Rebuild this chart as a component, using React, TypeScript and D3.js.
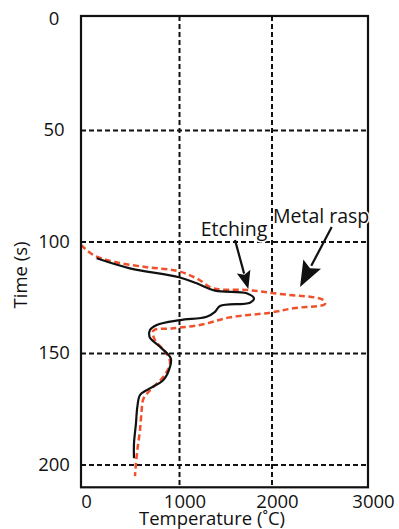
import React from "react";
import * as d3 from "d3";

const xTicks = [0, 1000, 2000, 3000];
const xTickLabels = ["0", "1000", "2000", "3000"];
const yTicks = [0, 50, 100, 150, 200];
const yTickLabels = ["0", "50", "100", "150", "200"];
const xGrid = [1000, 2000];
const yGrid = [50, 100, 150, 200];

// Etching (black solid): temperature (°C), time (s)
const etchingTemp = [159, 497, 995, 1186, 1384, 1726, 1805, 1762, 1438, 1384, 1294, 1005, 769, 700, 695, 802, 911, 904, 836, 667, 599, 572, 558, 538, 538];
const etchingTime = [107.3, 111.8, 115.8, 118.5, 121.8, 123, 125.3, 127.2, 128.7, 131.3, 133.5, 135, 137.2, 139.5, 142.5, 147, 152.1, 155.9, 161.9, 166.4, 168.6, 173.9, 181.3, 190.3, 197];

// Metal rasp (red dashed)
const raspTemp = [0, 125, 328, 667, 972, 1186, 1366, 1726, 2083, 2534, 2552, 2222, 1978, 1546, 1222, 937, 734, 751, 870, 904, 836, 701, 632, 616, 599, 572, 555, 548];
const raspTime = [101.3, 105.8, 108.8, 111.3, 112.9, 116.3, 120.8, 121.5, 123.3, 126, 127.8, 129.7, 131.7, 133.8, 137.2, 138.7, 139.8, 144, 150, 154.4, 160.4, 166.4, 170.5, 175.3, 184.3, 193.3, 200.8, 205];

const annotations = [
  { label: "Etching", textT: 1230, textY: 97.5, fromT: 1600, fromY: 99.1, toT: 1744, toY: 121.1, headLen: 18, headW: 14 },
  { label: "Metal rasp", textT: 2010, textY: 91.5, fromT: 2622, fromY: 93.3, toT: 2292, toY: 120.2, headLen: 26, headW: 20 },
];

const W = 399;
const H = 529;
const FONT = "'Open Sans', 'Liberation Sans', sans-serif";

export default function App() {
  const x = d3.scaleLinear().domain([0, 1000, 2000, 3000]).range([81, 179.5, 272, 368]);
  const y = d3.scaleLinear().domain([0, 200]).range([19, 465]);
  const frameTop = y(-1.35);
  const frameBottom = y(210);
  const frameLeft = x(0);
  const frameRight = x(3000);

  const line = d3
    .line<[number, number]>()
    .x((d) => x(d[0]))
    .y((d) => y(d[1]))
    .curve(d3.curveCatmullRom.alpha(0.5));

  const etching: [number, number][] = etchingTemp.map((t, i) => [t, etchingTime[i]]);
  const rasp: [number, number][] = raspTemp.map((t, i) => [t, raspTime[i]]);

  return (
    <svg width={W} height={H} style={{ position: "absolute", left: 0, top: 0, background: "#fff" }} fontFamily={FONT}>
      <rect x={0} y={0} width={W} height={H} fill="#fff" />
      {xGrid.map((g) => (
        <line key={"xg" + g} x1={x(g)} x2={x(g)} y1={frameTop} y2={frameBottom} stroke="#111" strokeWidth={2} strokeDasharray="5,3" />
      ))}
      {yGrid.map((g) => (
        <line key={"yg" + g} x1={frameLeft} x2={frameRight} y1={y(g)} y2={y(g)} stroke="#111" strokeWidth={2} strokeDasharray="5,3" />
      ))}
      <path d={line(rasp) || ""} fill="none" stroke="#f0502a" strokeWidth={2.5} strokeDasharray="6,3.5" />
      <path d={line(etching) || ""} fill="none" stroke="#111" strokeWidth={2.2} />
      <rect x={frameLeft} y={frameTop} width={frameRight - frameLeft} height={frameBottom - frameTop} fill="none" stroke="#111" strokeWidth={2.2} />
      {yTicks.map((t, i) => (
        <text key={"yt" + t} x={54} y={y(t) + 5.5} textAnchor="middle" fontSize={18.5} fill="#111">
          {yTickLabels[i]}
        </text>
      ))}
      {xTicks.map((t, i) => (
        <text key={"xt" + t} x={x(t) + 5.5} y={508} textAnchor="middle" fontSize={18.5} fill="#111">
          {xTickLabels[i]}
        </text>
      ))}
      <text x={212} y={525} textAnchor="middle" fontSize={18.5} fill="#111">
        Temperature (˚C)
      </text>
      <text transform={`translate(27,275) rotate(-90)`} textAnchor="middle" fontSize={18.5} fill="#111">
        Time (s)
      </text>
      {annotations.map((a) => {
        const x1 = x(a.fromT), y1 = y(a.fromY), x2 = x(a.toT), y2 = y(a.toY);
        const dx = x2 - x1, dy = y2 - y1;
        const len = Math.hypot(dx, dy);
        const ux = dx / len, uy = dy / len;
        const bx = x2 - ux * a.headLen, by = y2 - uy * a.headLen;
        const px = -uy, py = ux;
        const pts = [
          [x2, y2],
          [bx + px * a.headW / 2, by + py * a.headW / 2],
          [x2 - ux * a.headLen * 0.82, y2 - uy * a.headLen * 0.82],
          [bx - px * a.headW / 2, by - py * a.headW / 2],
        ];
        return (
          <g key={a.label}>
            <text x={x(a.textT)} y={y(a.textY)} fontSize={19.5} fill="#111" stroke="#fff" strokeWidth={3} paintOrder="stroke" strokeLinejoin="round">
              {a.label}
            </text>
            <line x1={x1} y1={y1} x2={bx + ux * 2} y2={by + uy * 2} stroke="#111" strokeWidth={2.2} />
            <polygon points={pts.map((p) => p.join(",")).join(" ")} fill="#111" />
          </g>
        );
      })}
    </svg>
  );
}
